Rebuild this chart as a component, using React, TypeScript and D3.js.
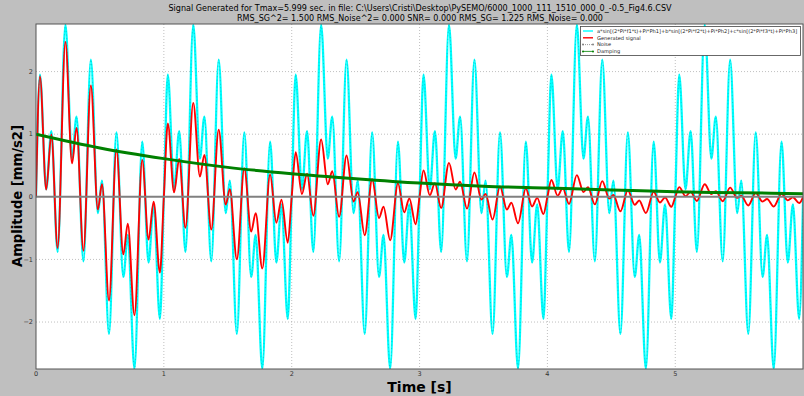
import React, { useEffect, useRef } from 'react';
import * as d3 from 'd3';

// one period of the cyan signal (extrema, it repeats every second)
const cycleTimes = [0, 0.031, 0.080, 0.120, 0.169, 0.230, 0.282, 0.317, 0.371, 0.429, 0.484,
    0.516, 0.571, 0.629, 0.683, 0.718, 0.770, 0.831, 0.880, 0.920, 0.969];
const cycleValues = [0, 1.95, 0.12, 1.05, -0.88, 2.75, 0.61, 1.28, -1.03, 2.19, -0.26,
    0.26, -2.19, 1.03, -1.28, -0.61, -2.75, 0.88, -1.05, -0.12, -1.95];
const periodCount = 6;

// damping envelope (green)
const dampingTimes = [0, 0.5, 1, 1.5, 2, 2.5, 3, 3.5, 4, 4.5, 5, 5.5, 6];
const dampingValues = [1.0, 0.78, 0.61, 0.47, 0.37, 0.29, 0.22, 0.17, 0.14, 0.11, 0.08, 0.065, 0.05];

const xTicks = [0, 1, 2, 3, 4, 5];
const yTicks = [-2, -1, 0, 1, 2];

const titleLine1 = 'Signal Generated for Tmax=5.999 sec. in file: C:\\Users\\Cristi\\Desktop\\PySEMO/6000_1000_111_1510_000_0_-0.5_Fig4.6.CSV';
const titleLine2 = 'RMS_SG^2= 1.500 RMS_Noise^2= 0.000 SNR= 0.000 RMS_SG= 1.225 RMS_Noise= 0.000';

const legendItems = [
    { label: 'a*sin[(2*Pi*f1*t)+Pi*Ph1]+b*sin[(2*Pi*f2*t)+Pi*Ph2]+c*sin[(2*Pi*f3*t)+Pi*Ph3]', color: '#00ffff', markers: false },
    { label: 'Generated signal', color: '#ff0000', markers: false },
    { label: 'Noise', color: '#808080', markers: true },
    { label: 'Damping', color: '#008000', markers: true },
];

const width = 804;
const height = 396;
const margin = { top: 24, right: 1, bottom: 27, left: 36 };
const font = '"DejaVu Sans", sans-serif';

const App: React.FC = () => {
    const svgRef = useRef<SVGSVGElement>(null);

    useEffect(() => {
        if (!svgRef.current) return;
        const svg = d3.select(svgRef.current);
        svg.selectAll('*').remove();

        const x = d3.scaleLinear().domain([0, 5.999]).range([margin.left, width - margin.right]);
        const y = d3.scaleLinear().domain([-2.75, 2.76]).range([height - margin.bottom, margin.top]);
        const dampingAt = d3.scaleLinear().domain(dampingTimes).range(dampingValues);

        const signal = d3.range(periodCount)
            .flatMap(p => cycleTimes.map((t, i) => ({ t: p + t, v: cycleValues[i] })))
            .concat([{ t: periodCount, v: 0 }]);
        const generated = signal.map(d => ({ t: d.t, v: d.v * dampingAt(d.t) }));
        const damping = dampingTimes.map((t, i) => ({ t, v: dampingValues[i] }));

        // background
        svg.append('rect').attr('width', width).attr('height', height).attr('fill', '#bfbfbf');
        svg.append('rect')
            .attr('x', margin.left).attr('y', margin.top)
            .attr('width', width - margin.left - margin.right)
            .attr('height', height - margin.top - margin.bottom)
            .attr('fill', '#ffffff');

        svg.append('defs').append('clipPath').attr('id', 'plot-clip')
            .append('rect')
            .attr('x', margin.left).attr('y', margin.top)
            .attr('width', width - margin.left - margin.right)
            .attr('height', height - margin.top - margin.bottom);

        // grid
        const grid = svg.append('g');
        xTicks.filter(t => t > 0).forEach(t => {
            grid.append('line')
                .attr('x1', x(t)).attr('x2', x(t))
                .attr('y1', margin.top).attr('y2', height - margin.bottom)
                .attr('stroke', '#b0b0b0').attr('stroke-width', 0.8).attr('stroke-dasharray', '1,2');
        });
        yTicks.filter(t => t !== 0).forEach(t => {
            grid.append('line')
                .attr('x1', margin.left).attr('x2', width - margin.right)
                .attr('y1', y(t)).attr('y2', y(t))
                .attr('stroke', '#b0b0b0').attr('stroke-width', 0.8).attr('stroke-dasharray', '1,2');
        });

        const line = d3.line<{ t: number; v: number }>()
            .x(d => x(d.t))
            .y(d => y(d.v))
            .curve(d3.curveMonotoneX);

        const plot = svg.append('g').attr('clip-path', 'url(#plot-clip)');

        plot.append('path').datum(signal)
            .attr('d', line).attr('fill', 'none')
            .attr('stroke', '#00ffff').attr('stroke-width', 2.3).attr('stroke-linejoin', 'round');
        plot.append('path').datum(signal)
            .attr('d', line).attr('fill', 'none')
            .attr('stroke', '#00d0d0').attr('stroke-width', 0.9).attr('stroke-dasharray', '1,2.5');

        plot.append('path').datum(generated)
            .attr('d', line).attr('fill', 'none')
            .attr('stroke', '#ff0000').attr('stroke-width', 1.9).attr('stroke-linejoin', 'round');

        // noise (zero)
        plot.append('line')
            .attr('x1', margin.left).attr('x2', width - margin.right)
            .attr('y1', y(0)).attr('y2', y(0))
            .attr('stroke', '#808080').attr('stroke-width', 2);

        plot.append('path').datum(damping)
            .attr('d', line).attr('fill', 'none')
            .attr('stroke', '#008000').attr('stroke-width', 3);

        // frame
        svg.append('rect')
            .attr('x', margin.left).attr('y', margin.top)
            .attr('width', width - margin.left - margin.right)
            .attr('height', height - margin.top - margin.bottom)
            .attr('fill', 'none').attr('stroke', '#555555').attr('stroke-width', 1);

        // ticks
        xTicks.forEach(t => {
            svg.append('text')
                .attr('x', x(t)).attr('y', height - margin.bottom + 7)
                .attr('text-anchor', 'middle')
                .attr('font-family', font).attr('font-size', 6.5).attr('fill', '#333')
                .text(d3.format('d')(t));
        });
        yTicks.forEach(t => {
            svg.append('text')
                .attr('x', margin.left - 3).attr('y', y(t) + 2.2)
                .attr('text-anchor', 'end')
                .attr('font-family', font).attr('font-size', 6.5).attr('fill', '#333')
                .text(t < 0 ? `\u2212${-t}` : `${t}`);
        });

        // axis labels
        svg.append('text')
            .attr('x', (margin.left + width - margin.right) / 2)
            .attr('y', height - 4.5)
            .attr('text-anchor', 'middle')
            .attr('font-family', font).attr('font-size', 14).attr('font-weight', 'bold')
            .text('Time [s]');

        svg.append('text')
            .attr('transform', `translate(22,${196}) rotate(-90)`)
            .attr('text-anchor', 'middle')
            .attr('font-family', font).attr('font-size', 14).attr('font-weight', 'bold')
            .attr('textLength', 142).attr('lengthAdjust', 'spacingAndGlyphs')
            .text('Amplitude  [mm/s2]');

        // title
        svg.append('text')
            .attr('x', 420).attr('y', 10.5)
            .attr('text-anchor', 'middle')
            .attr('font-family', font).attr('font-size', 8.2)
            .attr('textLength', 503).attr('lengthAdjust', 'spacingAndGlyphs')
            .text(titleLine1);
        svg.append('text')
            .attr('x', 420).attr('y', 20.5)
            .attr('text-anchor', 'middle')
            .attr('font-family', font).attr('font-size', 8.2)
            .attr('textLength', 366).attr('lengthAdjust', 'spacingAndGlyphs')
            .text(titleLine2);

        // legend
        const legend = svg.append('g');
        legend.append('rect')
            .attr('x', 580.5).attr('y', 26.5)
            .attr('width', 220).attr('height', 29)
            .attr('fill', '#ffffff').attr('stroke', '#444').attr('stroke-width', 0.8);
        legendItems.forEach((item, i) => {
            const ly = 31 + i * 6.8;
            legend.append('line')
                .attr('x1', 583).attr('x2', 593)
                .attr('y1', ly).attr('y2', ly)
                .attr('stroke', item.color)
                .attr('stroke-width', item.markers ? 0.8 : 1.4)
                .attr('stroke-dasharray', item.label === 'Noise' ? '1,1' : null);
            if (item.markers) {
                [583, 593].forEach(mx => {
                    legend.append('circle')
                        .attr('cx', mx).attr('cy', ly).attr('r', 1)
                        .attr('fill', item.color);
                });
            }
            legend.append('text')
                .attr('x', 597).attr('y', ly + 1.8)
                .attr('font-family', font).attr('font-size', 5.1).attr('fill', '#222')
                .text(item.label);
        });
    }, []);

    return (
        <div style={{ position: 'fixed', left: 0, top: 0, width, height }}>
            <svg ref={svgRef} width={width} height={height} style={{ display: 'block' }} />
        </div>
    );
};

export default App;
